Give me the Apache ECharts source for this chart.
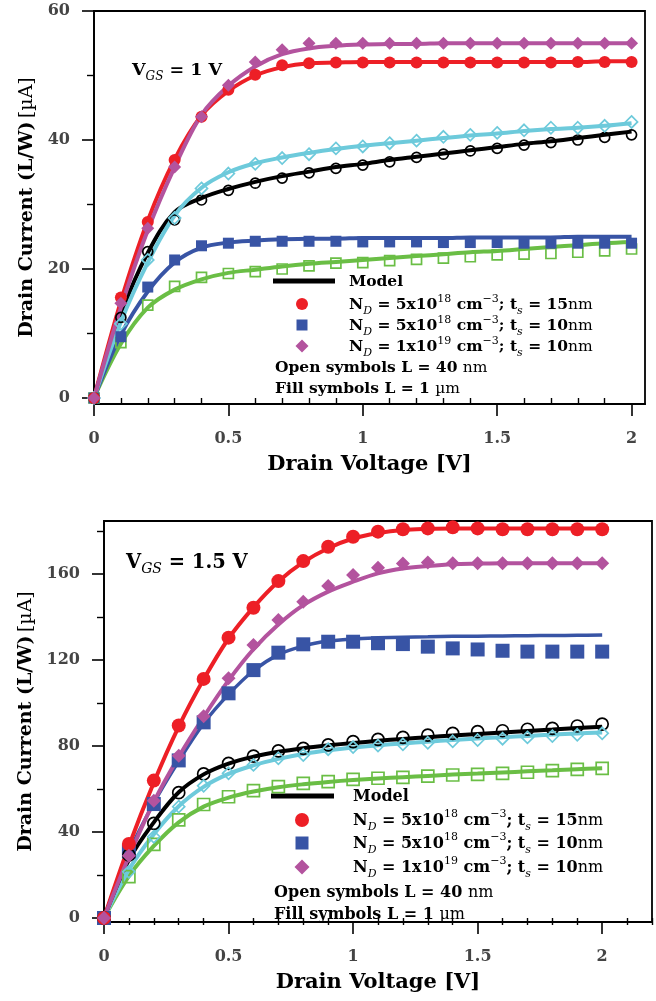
<!DOCTYPE html>
<html><head><meta charset="utf-8">
<script src="https://cdn.jsdelivr.net/npm/echarts@6/dist/echarts.min.js"></script>
<style>html,body{margin:0;padding:0;background:#fff}#c{width:656px;height:1001px}</style>
</head><body><div id="c"></div>
<script>
// ---- data ----
const vds = [0, 0.1, 0.2, 0.3, 0.4, 0.5, 0.6, 0.7, 0.8, 0.9, 1.0, 1.1, 1.2, 1.3, 1.4, 1.5, 1.6, 1.7, 1.8, 1.9, 2.0];

// VGS = 1 V (top)
const top_red_pts    = [0, 15.6, 27.3, 36.9, 43.6, 47.8, 50.1, 51.6, 51.9, 52.0, 52.0, 52.0, 52.0, 52.0, 52.0, 52.0, 52.0, 52.0, 52.1, 52.1, 52.1];
const top_red_model  = [0, 15.0, 27.5, 37.0, 43.8, 47.6, 50.0, 51.3, 51.9, 52.0, 52.1, 52.1, 52.1, 52.1, 52.1, 52.1, 52.1, 52.1, 52.1, 52.2, 52.2];
const top_pur_pts    = [0, 14.7, 26.3, 35.8, 43.6, 48.5, 52.1, 54.0, 55.0, 55.0, 55.0, 55.0, 55.0, 55.0, 55.0, 55.0, 55.0, 55.0, 55.0, 55.0, 55.0];
const top_pur_model  = [0, 14.0, 26.0, 35.8, 43.9, 48.4, 51.4, 53.3, 54.2, 54.6, 54.8, 54.9, 54.9, 55.0, 55.0, 55.0, 55.0, 55.0, 55.0, 55.0, 55.0];
const top_blu_pts    = [0, 9.5, 17.2, 21.4, 23.6, 24.0, 24.3, 24.3, 24.3, 24.3, 24.2, 24.2, 24.2, 24.1, 24.1, 24.1, 24.0, 24.0, 24.0, 24.0, 24.0];
const top_blu_model  = [0, 9.8, 16.5, 21.0, 23.3, 24.1, 24.4, 24.6, 24.7, 24.7, 24.8, 24.8, 24.8, 24.8, 24.9, 24.9, 24.9, 24.9, 25.0, 25.0, 25.0];
const top_blk_pts    = [0, 12.5, 22.7, 27.6, 30.7, 32.2, 33.3, 34.1, 34.9, 35.6, 36.1, 36.6, 37.3, 37.8, 38.3, 38.7, 39.2, 39.6, 40.0, 40.4, 40.8];
const top_blk_model  = [0, 13.0, 22.5, 28.8, 31.0, 32.4, 33.5, 34.4, 35.1, 35.8, 36.3, 36.9, 37.4, 37.9, 38.4, 38.9, 39.4, 39.8, 40.3, 40.8, 41.3];
const top_cyn_pts    = [0, 11.5, 21.4, 27.9, 32.5, 34.8, 36.3, 37.2, 37.8, 38.7, 39.0, 39.5, 39.9, 40.5, 40.8, 41.1, 41.5, 41.9, 41.9, 42.2, 42.8];
const top_cyn_model  = [0, 11.8, 21.0, 28.3, 32.6, 35.0, 36.4, 37.3, 38.0, 38.6, 39.1, 39.5, 39.9, 40.3, 40.7, 41.0, 41.4, 41.7, 41.9, 42.2, 42.6];
const top_grn_pts    = [0, 8.6, 14.4, 17.3, 18.7, 19.3, 19.6, 20.0, 20.5, 20.9, 21.0, 21.3, 21.5, 21.7, 21.9, 22.2, 22.3, 22.4, 22.6, 22.8, 23.1];
const top_grn_model  = [0, 8.4, 14.0, 16.8, 18.4, 19.4, 19.9, 20.4, 20.8, 21.1, 21.4, 21.7, 22.0, 22.3, 22.6, 22.8, 23.1, 23.4, 23.7, 24.0, 24.2];

// VGS = 1.5 V (bottom)
const bot_red_pts    = [0, 34.4, 63.9, 89.5, 111.2, 130.4, 144.3, 156.7, 166.0, 172.7, 177.3, 179.7, 180.8, 181.2, 181.7, 181.2, 180.8, 180.8, 180.8, 180.8, 180.8];
const bot_red_model  = [0, 33.5, 63.0, 89.0, 111.0, 130.0, 144.5, 156.5, 165.5, 172.0, 176.5, 179.0, 180.5, 181.0, 181.2, 181.2, 181.2, 181.2, 181.2, 181.2, 181.2];
const bot_pur_pts    = [0, 29.0, 54.5, 75.5, 93.8, 111.5, 127.0, 138.6, 147.1, 154.4, 159.5, 162.9, 164.9, 165.3, 165.0, 165.0, 165.0, 165.0, 165.0, 165.0, 165.0];
const bot_pur_model  = [0, 28.5, 54.0, 75.0, 93.5, 110.5, 125.0, 136.5, 145.5, 151.8, 156.4, 160.3, 162.6, 163.7, 164.5, 164.8, 165.0, 165.0, 165.0, 165.0, 165.0];
const bot_blu_pts    = [0, 31.0, 53.0, 73.3, 91.0, 104.5, 115.3, 123.4, 127.3, 128.5, 128.5, 127.8, 127.4, 126.2, 125.4, 124.9, 124.3, 123.9, 123.9, 123.9, 123.9];
const bot_blu_model  = [0, 30.5, 53.5, 73.0, 90.5, 104.0, 115.0, 122.5, 126.5, 128.8, 129.8, 130.3, 130.6, 130.8, 131.0, 131.1, 131.2, 131.3, 131.4, 131.5, 131.6];
const bot_blk_pts    = [0, 29.3, 44.0, 58.3, 67.0, 71.9, 75.3, 77.7, 78.9, 80.5, 82.0, 83.1, 84.0, 85.1, 85.9, 86.7, 87.1, 87.8, 88.2, 89.3, 90.2];
const bot_blk_model  = [0, 27.0, 44.5, 58.5, 66.8, 71.8, 75.0, 77.3, 79.0, 80.3, 81.4, 82.4, 83.3, 84.1, 84.9, 85.6, 86.3, 87.0, 87.7, 88.4, 89.0];
const bot_cyn_pts    = [0, 21.5, 37.8, 51.8, 61.5, 67.3, 71.2, 74.3, 75.8, 78.5, 79.5, 80.2, 80.8, 81.5, 82.2, 82.8, 83.4, 84.0, 84.6, 85.2, 85.9];
const bot_cyn_model  = [0, 22.5, 39.0, 52.0, 61.0, 67.0, 71.0, 74.0, 76.3, 78.0, 79.3, 80.3, 81.2, 82.0, 82.8, 83.5, 84.1, 84.7, 85.3, 85.8, 86.3];
const bot_grn_pts    = [0, 19.2, 34.2, 45.6, 52.8, 56.4, 59.2, 61.1, 62.6, 63.4, 64.5, 65.0, 65.4, 66.0, 66.5, 66.8, 67.3, 67.8, 68.5, 69.1, 69.6];
const bot_grn_model  = [0, 19.5, 33.5, 44.5, 51.8, 56.0, 58.8, 60.8, 62.2, 63.3, 64.2, 64.9, 65.5, 66.1, 66.7, 67.2, 67.7, 68.2, 68.7, 69.2, 69.6];

// tick labels
const top_x_major = [0, 0.5, 1, 1.5, 2];
const top_x_minor = [0.1, 0.2, 0.3, 0.4, 0.6, 0.7, 0.8, 0.9, 1.1, 1.2, 1.3, 1.4, 1.6, 1.7, 1.8, 1.9];
const top_y_major = [0, 20, 40, 60];
const top_y_minor = [10, 30, 50];
const bot_x_major = [0, 0.5, 1, 1.5, 2];
const bot_x_minor = [0.1, 0.2, 0.3, 0.4, 0.6, 0.7, 0.8, 0.9, 1.1, 1.2, 1.3, 1.4, 1.6, 1.7, 1.8, 1.9, 2.1, 2.2];
const bot_y_major = [0, 40, 80, 120, 160];
const bot_y_minor = [20, 60, 100, 140, 180];

const texts = {
  xTitle: 'Drain Voltage',
  xUnit: '[V]',
  yTitle: 'Drain Current (L/W)',
  yUnit: '[µA]',
  model: 'Model'
};

// ---- styling ----
const C = {red:'#ED1F26', pur:'#B3539E', blu:'#3854A5', cyn:'#6DCADB', grn:'#6ABE45', blk:'#000000'};
const FF = 'DejaVu Serif';

function pts(vals){ return vds.map((x,i)=>[x, vals[i]]); }

function richSet(fs){
  const s = Math.round(fs*0.7);
  return {
    b:{fontFamily:FF, fontWeight:'bold', fontSize:fs, lineHeight:fs+8, verticalAlign:'middle', fill:'#000'},
    n:{fontFamily:FF, fontWeight:'normal', fontSize:fs, lineHeight:fs+8, verticalAlign:'middle', fill:'#000'},
    sub:{fontFamily:FF, fontStyle:'italic', fontWeight:'normal', fontSize:s, lineHeight:s, verticalAlign:'bottom', fill:'#000'},
    sup:{fontFamily:FF, fontWeight:'normal', fontSize:s, lineHeight:s, verticalAlign:'top', fill:'#000'}
  };
}

function lineS(g, vals, color, w){
  return {type:'line', xAxisIndex:g*2, yAxisIndex:g*2, data:pts(vals), smooth:0.35,
    showSymbol:false, symbol:'none', lineStyle:{color, width:w}, itemStyle:{color}, z:2, animation:false, clip:false};
}
function markS(g, vals, color, symbol, size, open){
  return {type:'scatter', xAxisIndex:g*2, yAxisIndex:g*2, data:pts(vals), symbol, symbolSize:size,
    itemStyle: open ? {color:'rgba(0,0,0,0)', borderColor:color, borderWidth:1.7, opacity:1} : {color, borderWidth:0, opacity:1},
    z:3, animation:false, clip:false};
}

function xAxes(g, max, major, minor){
  return [
    {type:'value', gridIndex:g, position:'bottom', min:0, max,
      axisLine:{show:true, onZero:false, lineStyle:{color:'#000', width:1.8}},
      axisTick:{show:true, customValues:major, length:12, lineStyle:{color:'#000', width:1.6}},
      axisLabel:{customValues:major, margin:27, color:'#444', fontFamily:FF, fontWeight:'bold', fontSize:16},
      splitLine:{show:false},
      name:'{b|'+texts.xTitle+' '+texts.xUnit+'}', nameLocation:'middle', nameGap:50,
      nameTextStyle:{rich:{b:{fontFamily:FF, fontWeight:'bold', fontSize:21, color:'#000'}}}},
    {type:'value', gridIndex:g, position:'bottom', min:0, max,
      axisLine:{show:false}, axisLabel:{show:false}, splitLine:{show:false},
      axisTick:{show:true, customValues:minor, length:7, lineStyle:{color:'#000', width:1.4}}}
  ];
}
function yAxes(g, min, max, major, minor){
  return [
    {type:'value', gridIndex:g, position:'left', min, max,
      axisLine:{show:true, onZero:false, lineStyle:{color:'#000', width:1.8}},
      axisTick:{show:true, customValues:major, length:12, lineStyle:{color:'#000', width:1.6}},
      axisLabel:{customValues:major, margin:24, color:'#444', fontFamily:FF, fontWeight:'bold', fontSize:16},
      splitLine:{show:false},
      name:'{b|'+texts.yTitle+'} {n|'+texts.yUnit+'}', nameLocation:'middle', nameGap:56, nameRotate:90,
      nameTextStyle:{rich:{
        b:{fontFamily:FF, fontWeight:'bold', fontSize:19, color:'#000'},
        n:{fontFamily:FF, fontWeight:'normal', fontSize:19, color:'#000'}}}},
    {type:'value', gridIndex:g, position:'left', min, max,
      axisLine:{show:false}, axisLabel:{show:false}, splitLine:{show:false},
      axisTick:{show:true, customValues:minor, length:7, lineStyle:{color:'#000', width:1.4}}}
  ];
}

function legend(o){
  const r = richSet(o.fs);
  const half = o.ms/2;
  const els = [
    {type:'line', shape:{x1:o.lineX1, y1:o.rowsY[0], x2:o.lineX2, y2:o.rowsY[0]}, style:{stroke:'#000', lineWidth:5}},
    {type:'circle', shape:{cx:o.mx, cy:o.rowsY[1], r:half+0.5}, style:{fill:C.red}},
    {type:'rect', shape:{x:o.mx-half, y:o.rowsY[2]-half, width:o.ms, height:o.ms}, style:{fill:C.blu}},
    {type:'polygon', shape:{points:[[o.mx, o.rowsY[3]-half-1],[o.mx+half+1, o.rowsY[3]],[o.mx, o.rowsY[3]+half+1],[o.mx-half-1, o.rowsY[3]]]}, style:{fill:C.pur}}
  ];
  const lines = [
    '{b|'+texts.model+'}',
    '{b|N}{sub|D}{b| = 5x10}{sup|18}{b| cm}{sup|−3}{b|; t}{sub|s}{b| = 15}{n|nm}',
    '{b|N}{sub|D}{b| = 5x10}{sup|18}{b| cm}{sup|−3}{b|; t}{sub|s}{b| = 10}{n|nm}',
    '{b|N}{sub|D}{b| = 1x10}{sup|19}{b| cm}{sup|−3}{b|; t}{sub|s}{b| = 10}{n|nm}'
  ];
  lines.forEach((t,i)=>els.push({type:'text', x:o.textX, y:o.rowsY[i]+1,
    style:{text:t, rich:r, fill:'#000', align:'left', verticalAlign:'middle'}}));
  const notes = ['{b|Open symbols L = 40 }{n|nm}', '{b|Fill symbols L = 1 }{n|µm}'];
  notes.forEach((t,i)=>els.push({type:'text', x:o.noteX, y:o.noteY[i],
    style:{text:t, rich:r, fill:'#000', align:'left', verticalAlign:'middle'}}));
  return els;
}

const graphic = [].concat(
  legend({lineX1:273, lineX2:335, mx:302, textX:349, rowsY:[281,304,325,346], noteX:275, noteY:[368,389], fs:15.5, ms:11}),
  legend({lineX1:271, lineX2:334, mx:302, textX:353, rowsY:[796,820,843,867], noteX:274, noteY:[893,915], fs:16, ms:13}),
  [
    {type:'text', x:132, y:70, style:{text:'{b|V}{sub|GS}{b| = 1 V}', rich:richSet(17.5), fill:'#000', align:'left', verticalAlign:'middle'}},
    {type:'text', x:126, y:563, style:{text:'{b|V}{sub|GS}{b| = 1.5 V}', rich:richSet(19.5), fill:'#000', align:'left', verticalAlign:'middle'}}
  ]
);

const option = {
  backgroundColor:'#fff',
  animation:false,
  grid:[
    {left:94, top:11, width:551, height:393, show:true, borderColor:'#000', borderWidth:1.8, containLabel:false},
    {left:104, top:521, width:548, height:401, show:true, borderColor:'#000', borderWidth:1.8, containLabel:false}
  ],
  xAxis:[].concat(xAxes(0, 2.05, top_x_major, top_x_minor), xAxes(1, 2.2, bot_x_major, bot_x_minor)),
  yAxis:[].concat(yAxes(0, -0.93, 60, top_y_major, top_y_minor), yAxes(1, -1.86, 184.65, bot_y_major, bot_y_minor)),
  series:[
    lineS(0, top_grn_model, C.grn, 4), lineS(0, top_blu_model, C.blu, 4),
    lineS(0, top_blk_model, C.blk, 4), lineS(0, top_cyn_model, C.cyn, 4),
    lineS(0, top_red_model, C.red, 4), lineS(0, top_pur_model, C.pur, 4),
    markS(0, top_grn_pts, C.grn, 'rect', 10, true),
    markS(0, top_blu_pts, C.blu, 'rect', 11, false),
    markS(0, top_blk_pts, C.blk, 'circle', 10, true),
    markS(0, top_cyn_pts, C.cyn, 'diamond', 12, true),
    markS(0, top_red_pts, C.red, 'circle', 12, false),
    markS(0, top_pur_pts, C.pur, 'diamond', 13, false),

    lineS(1, bot_grn_model, C.grn, 4), lineS(1, bot_blu_model, C.blu, 3.5),
    lineS(1, bot_cyn_model, C.cyn, 4), lineS(1, bot_blk_model, C.blk, 4),
    lineS(1, bot_red_model, C.red, 4), lineS(1, bot_pur_model, C.pur, 4),
    markS(1, bot_grn_pts, C.grn, 'rect', 12, true),
    markS(1, bot_blu_pts, C.blu, 'rect', 14, false),
    markS(1, bot_blk_pts, C.blk, 'circle', 12, true),
    markS(1, bot_cyn_pts, C.cyn, 'diamond', 12, true),
    markS(1, bot_red_pts, C.red, 'circle', 14, false),
    markS(1, bot_pur_pts, C.pur, 'diamond', 14, false)
  ],
  graphic
};

const chart = echarts.init(document.getElementById('c'), null, {renderer:'canvas'});
chart.setOption(option);
</script>
</body></html>
